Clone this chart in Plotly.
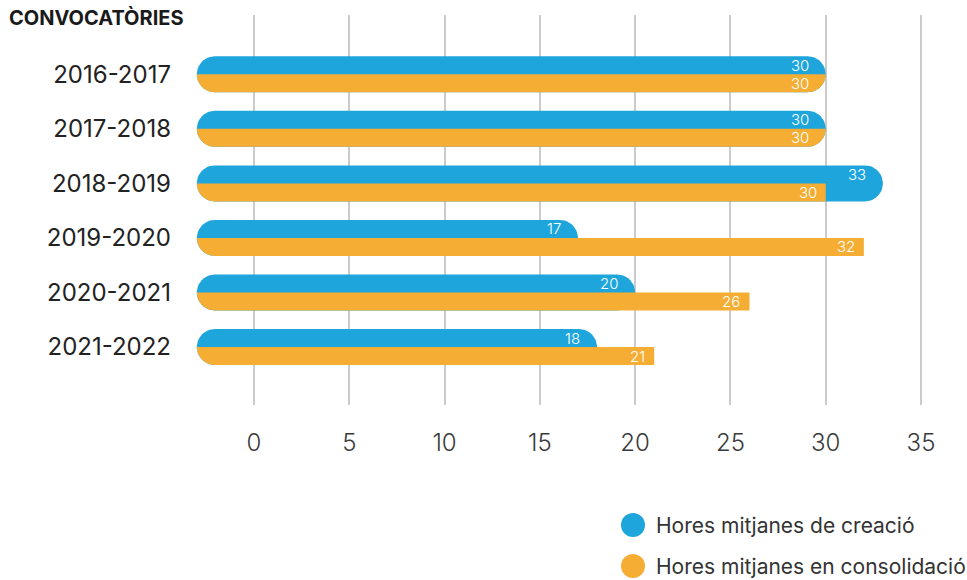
import numpy as np
import plotly.graph_objects as go

# ---- data -------------------------------------------------------------
convocatories = ["2016-2017", "2017-2018", "2018-2019", "2019-2020", "2020-2021", "2021-2022"]
hores_creacio = [30, 30, 33, 17, 20, 18]
hores_consolidacio = [30, 30, 30, 32, 26, 21]
x_ticks = [0, 5, 10, 15, 20, 25, 30, 35]
serie_creacio = "Hores mitjanes de creació"
serie_consolidacio = "Hores mitjanes en consolidació"

# ---- style ------------------------------------------------------------
BLUE = "#1ea6dc"
ORANGE = "#f6ad33"
GRID = "#cbcbcb"
FONT = "Inter, Open Sans, sans-serif"

W, H = 967, 580
# plot area in pixels
L, R, T, B = 193, 931, 15, 405
X_RANGE = [-3.2, 35.525]
Y_RANGE = [6.063, -1.087]          # reversed so the first season is on top

px_per_x = (R - L) / (X_RANGE[1] - X_RANGE[0])
px_per_y = (B - T) / (Y_RANGE[0] - Y_RANGE[1])

BAR_PX = 18                          # thickness of each bar
bar_h = BAR_PX / px_per_y           # in y units
rad_x = BAR_PX / px_per_x           # corner radius in x units
bar_start = -3.0                    # bars begin left of the zero line


def arc(cx, cy, a0, a1, n=24):
    t = np.radians(np.linspace(a0, a1, n))
    return list(cx + rad_x * np.cos(t)), list(cy + bar_h * np.sin(t))


def pill(c, v):
    """Full-height rounded bar (both halves) ending at v."""
    xs, ys = [], []
    ax, ay = arc(v - rad_x, c, -90, 90)
    xs += ax; ys += ay
    ax, ay = arc(bar_start + rad_x, c, 90, 270)
    xs += ax; ys += ay
    xs.append(xs[0]); ys.append(ys[0])
    return xs, ys


def lower_bar(c, v, rounded_end):
    """Lower half bar, rounded on the left, optionally on the right."""
    xs, ys = [], []
    ax, ay = arc(bar_start + rad_x, c, 180, 90)
    xs += ax; ys += ay
    if rounded_end:
        ax, ay = arc(v - rad_x, c, 90, 0)
        xs += ax; ys += ay
    else:
        xs += [v, v]; ys += [c + bar_h, c]
    xs.append(xs[0]); ys.append(ys[0])
    return xs, ys


fig = go.Figure()

for i, (b, o) in enumerate(zip(hores_creacio, hores_consolidacio)):
    xs, ys = pill(i, b)
    fig.add_trace(go.Scatter(x=xs, y=ys, mode="lines", fill="toself",
                             fillcolor=BLUE, line=dict(width=0),
                             hoverinfo="skip", showlegend=False))
for i, (b, o) in enumerate(zip(hores_creacio, hores_consolidacio)):
    xs, ys = lower_bar(i, o, o == b)
    fig.add_trace(go.Scatter(x=xs, y=ys, mode="lines", fill="toself",
                             fillcolor=ORANGE, line=dict(width=0),
                             hoverinfo="skip", showlegend=False))

# value labels inside the bar ends
round_off = 15 / px_per_x
square_off = 7 / px_per_x
label_font = dict(family=FONT, size=15, color="white", weight=300)
annotations = []
for i, (b, o) in enumerate(zip(hores_creacio, hores_consolidacio)):
    annotations.append(dict(x=b - round_off, y=i - bar_h / 2, text=str(b),
                            xanchor="right", yanchor="middle", showarrow=False,
                            font=label_font))
    off = round_off if o == b else square_off
    annotations.append(dict(x=o - off, y=i + bar_h / 2, text=str(o),
                            xanchor="right", yanchor="middle", showarrow=False,
                            font=label_font))


def paper_x(px):
    return (px - L) / (R - L)


def paper_y(py):
    return (B - py) / (B - T)


annotations.append(dict(x=paper_x(7), y=paper_y(18), xref="paper", yref="paper",
                        text="<b>CONVOCATÒRIES</b>", xanchor="left", yanchor="middle",
                        showarrow=False,
                        font=dict(family=FONT, size=20, color="#1a1a1a", weight=800)))

shapes = []
for name, col, cy in [(serie_creacio, BLUE, 525), (serie_consolidacio, ORANGE, 566)]:
    shapes.append(dict(type="circle", xref="paper", yref="paper",
                       x0=paper_x(621), x1=paper_x(645),
                       y0=paper_y(cy + 12), y1=paper_y(cy - 12),
                       fillcolor=col, line=dict(width=0)))
    annotations.append(dict(x=paper_x(654), y=paper_y(cy), xref="paper", yref="paper",
                            text=name, xanchor="left", yanchor="middle",
                            showarrow=False,
                            font=dict(family=FONT, size=21, color="#333333")))

fig.update_layout(
    width=W, height=H,
    margin=dict(l=L, r=W - R, t=T, b=H - B),
    paper_bgcolor="white", plot_bgcolor="white",
    showlegend=False,
    annotations=annotations,
    shapes=shapes,
    xaxis=dict(range=X_RANGE, tickvals=x_ticks, ticktext=[str(v) for v in x_ticks],
               showgrid=True, gridcolor=GRID, gridwidth=1.5, zeroline=False,
               showline=False, ticks="", ticklabelstandoff=21,
               tickfont=dict(family=FONT, size=24, color="#3a3a3a", weight=300),
               fixedrange=True),
    yaxis=dict(range=Y_RANGE, tickvals=list(range(len(convocatories))),
               ticktext=convocatories, showgrid=False, zeroline=False,
               showline=False, ticks="", ticklabelstandoff=21,
               tickfont=dict(family=FONT, size=24, color="#222222"), fixedrange=True),
)

fig.write_html("out.html")
